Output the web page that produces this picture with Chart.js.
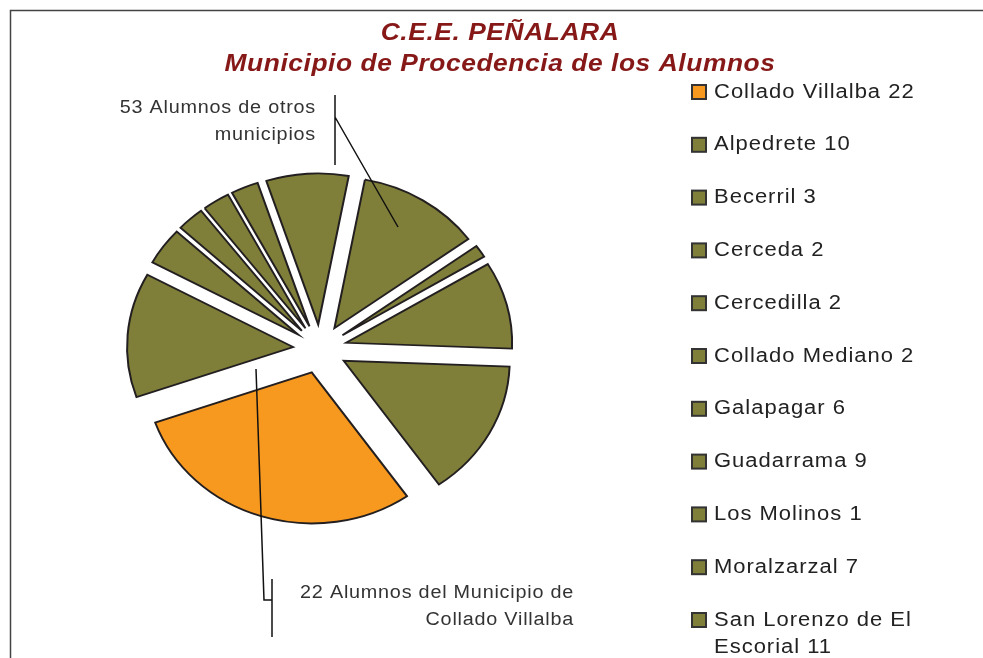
<!DOCTYPE html>
<html>
<head>
<meta charset="utf-8">
<script src="https://cdn.jsdelivr.net/npm/chart.js@4/dist/chart.umd.min.js"></script>
<style>
	body { margin: 0; background: #ffffff; }
	canvas { display: block; }
</style>
</head>
<body>
<canvas id="municipiosPieChart" width="983" height="658"></canvas>
<script>
// Datos del gráfico
const municipios = ['Collado Villalba', 'Alpedrete', 'Becerril', 'Cerceda', 'Cercedilla', 'Collado Mediano',
	'Galapagar', 'Guadarrama', 'Los Molinos', 'Moralzarzal', 'San Lorenzo de El Escorial'];
const alumnos = [22, 10, 3, 2, 2, 2, 6, 9, 1, 7, 11];
const legendLines = [
	['Collado Villalba 22'], ['Alpedrete 10'], ['Becerril 3'], ['Cerceda 2'], ['Cercedilla 2'],
	['Collado Mediano 2'], ['Galapagar 6'], ['Guadarrama 9'], ['Los Molinos 1'], ['Moralzarzal 7'],
	['San Lorenzo de El', 'Escorial 11']
];
const titleLines = ['C.E.E. PEÑALARA', 'Municipio de Procedencia de los Alumnos'];
const otrosLabel = ['53 Alumnos de otros', 'municipios'];
const villalbaLabel = ['22 Alumnos del Municipio de', 'Collado Villalba'];

const OLIVE = '#7f7f3a';
const ORANGE = '#f7981f';
const OUTLINE = '#231f20';
const sliceColors = municipios.map((m, i) => i === 0 ? ORANGE : OLIVE);

const PIE_Y_SCALE = 0.91; // el gráfico original está algo achatado
const EXPLODE = 27;       // separación de cada porción
const TEXT_X_SCALE = 1.1; // el texto del original está ensanchado

// dibuja las porciones separadas y achata el pastel alrededor de su centro
const explodePlugin = {
	id: 'explode',
	beforeDatasetsDraw(chart) {
		const arcs = chart.getDatasetMeta(0).data;
		const ctx = chart.ctx;
		const cx = arcs[0].x;
		const cy = arcs[0].y;
		ctx.save();
		ctx.translate(cx, cy);
		ctx.scale(1, PIE_Y_SCALE);
		ctx.translate(-cx, -cy);
		arcs.forEach(arc => {
			const mid = (arc.startAngle + arc.endAngle) / 2;
			ctx.save();
			ctx.translate(Math.cos(mid) * EXPLODE, Math.sin(mid) * EXPLODE);
			arc.draw(ctx);
			ctx.restore();
		});
		ctx.restore();
		return false;
	}
};

function drawText(ctx, text, x, y) {
	ctx.save();
	ctx.translate(x, y);
	ctx.scale(TEXT_X_SCALE, 1);
	ctx.fillText(text, 0, 0);
	ctx.restore();
}

// marco, título, leyenda y etiquetas con líneas guía
const decorPlugin = {
	id: 'decor',
	afterDraw(chart) {
		const ctx = chart.ctx;
		ctx.save();

		ctx.strokeStyle = '#444444';
		ctx.lineWidth = 1.5;
		ctx.strokeRect(10.5, 10.5, 990, 700);

		// título
		ctx.fillStyle = '#861818';
		ctx.font = 'italic bold 24px "Liberation Sans", Arial, sans-serif';
		ctx.letterSpacing = '0.5px';
		ctx.textAlign = 'center';
		ctx.textBaseline = 'middle';
		drawText(ctx, titleLines[0], 500, 33);
		drawText(ctx, titleLines[1], 500, 64);

		// leyenda
		ctx.font = '20px "Liberation Sans", Arial, sans-serif';
		ctx.letterSpacing = '0.9px';
		ctx.textAlign = 'left';
		legendLines.forEach((lines, i) => {
			const y = 92 + i * 52.8;
			ctx.fillStyle = sliceColors[i];
			ctx.fillRect(692, y - 7, 14, 14);
			ctx.strokeStyle = '#333333';
			ctx.lineWidth = 2;
			ctx.strokeRect(692, y - 7, 14, 14);
			ctx.fillStyle = '#222222';
			lines.forEach((line, j) => drawText(ctx, line, 714, y + j * 27));
		});

		// etiquetas
		ctx.font = '18px "Liberation Sans", Arial, sans-serif';
		ctx.letterSpacing = '0.7px';
		ctx.textAlign = 'right';
		ctx.fillStyle = '#333333';
		drawText(ctx, otrosLabel[0], 316, 108);
		drawText(ctx, otrosLabel[1], 316, 135);
		drawText(ctx, villalbaLabel[0], 574, 593);
		drawText(ctx, villalbaLabel[1], 574, 620);

		ctx.strokeStyle = '#111111';
		ctx.lineWidth = 1.5;
		ctx.beginPath();
		ctx.moveTo(335, 95); ctx.lineTo(335, 165);
		ctx.moveTo(335, 117); ctx.lineTo(398, 227);
		ctx.moveTo(256, 369); ctx.lineTo(264, 600); ctx.lineTo(272, 600);
		ctx.moveTo(272, 579); ctx.lineTo(272, 637);
		ctx.stroke();

		ctx.restore();
	}
};

const ctx = document.getElementById('municipiosPieChart').getContext('2d');

new Chart(ctx, {
	type: 'pie',
	data: {
		labels: municipios,
		datasets: [{
			label: 'Alumnos',
			data: alumnos,
			backgroundColor: sliceColors,
			borderColor: OUTLINE,
			borderWidth: 2,
			borderJoinStyle: 'miter'
		}]
	},
	options: {
		responsive: false,
		animation: false,
		rotation: 145,
		radius: 166,
		layout: {
			padding: { left: 0, right: 343, top: 40, bottom: 0 }
		},
		plugins: {
			legend: { display: false },
			title: { display: false },
			tooltip: { enabled: false }
		}
	},
	plugins: [explodePlugin, decorPlugin]
});
</script>
</body>
</html>
